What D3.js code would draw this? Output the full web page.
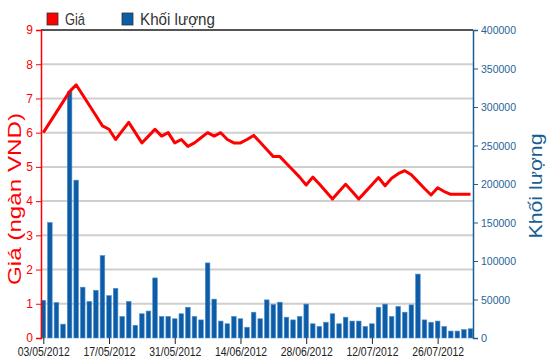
<!DOCTYPE html>
<html>
<head>
<meta charset="utf-8">
<script src="https://d3js.org/d3.v7.min.js"></script>
<style>
  body { margin: 0; background: #fff; }
  svg { display: block; font-family: "Liberation Sans", Arial, sans-serif; }
</style>
</head>
<body>
<svg width="550" height="364"></svg>
<script>
// trading days
var dates = [
  "03/05/2012","04/05/2012","07/05/2012","08/05/2012","09/05/2012","10/05/2012","11/05/2012",
  "14/05/2012","15/05/2012","16/05/2012","17/05/2012","18/05/2012","21/05/2012","22/05/2012",
  "23/05/2012","24/05/2012","25/05/2012","28/05/2012","29/05/2012","30/05/2012","31/05/2012",
  "01/06/2012","04/06/2012","05/06/2012","06/06/2012","07/06/2012","08/06/2012","11/06/2012",
  "12/06/2012","13/06/2012","14/06/2012","15/06/2012","18/06/2012","19/06/2012","20/06/2012",
  "21/06/2012","22/06/2012","25/06/2012","26/06/2012","27/06/2012","28/06/2012","29/06/2012",
  "02/07/2012","03/07/2012","04/07/2012","05/07/2012","06/07/2012","09/07/2012","10/07/2012",
  "11/07/2012","12/07/2012","13/07/2012","16/07/2012","17/07/2012","18/07/2012","19/07/2012",
  "20/07/2012","23/07/2012","24/07/2012","25/07/2012","26/07/2012","27/07/2012","30/07/2012",
  "31/07/2012","01/08/2012","02/08/2012"
];

// price, thousand VND
var price = [
  6.0, 6.3, 6.6, 6.9, 7.2, 7.4, 7.1, 6.8, 6.5, 6.2,
  6.1, 5.8, 6.05, 6.3, 6.0, 5.7, 5.9, 6.1, 5.9, 6.0,
  5.7, 5.8, 5.6, 5.7, 5.85, 6.0, 5.9, 6.0, 5.8, 5.7,
  5.7, 5.8, 5.92, 5.72, 5.51, 5.3, 5.3, 5.1, 4.9, 4.7,
  4.47, 4.7, 4.5, 4.28, 4.06, 4.28, 4.49, 4.28, 4.06, 4.27,
  4.48, 4.69, 4.45, 4.67, 4.8, 4.89, 4.77, 4.57, 4.37, 4.18,
  4.39, 4.28, 4.2, 4.2, 4.2, 4.2
];

// volume
var volume = [
  49000, 150000, 46000, 18000, 320000, 205000, 66000, 47500, 62000, 107000,
  55000, 64500, 28000, 47500, 16500, 31500, 35000, 78000, 28000, 28000,
  25000, 31500, 40000, 28000, 23500, 97500, 50500, 22000, 18500, 28000,
  25000, 14000, 33500, 25000, 49500, 43500, 46500, 27000, 23500, 28000,
  44000, 18500, 15000, 20500, 31500, 18500, 27000, 22000, 22000, 15000,
  18500, 40000, 44000, 28000, 41000, 33500, 43000, 83000, 23500, 20500,
  22000, 15000, 9000, 9000, 11000, 12000
];

var priceTicks = [0, 1, 2, 3, 4, 5, 6, 7, 8, 9];
var volTicks = [0, 50000, 100000, 150000, 200000, 250000, 300000, 350000, 400000];

var svg = d3.select("svg");
var plotL = 41, plotR = 473, plotT = 30, plotB = 338;

var x = d3.scalePoint().domain(dates).range([43.3, 470.5]);
var yP = d3.scaleLinear().domain([0, 9]).range([plotB, plotT]);
var yV = d3.scaleLinear().domain([0, 400000]).range([plotB, plotT]);

// grid
svg.append("g")
  .selectAll("line")
  .data(priceTicks.slice(1, 9))
  .enter().append("line")
    .attr("x1", plotL).attr("x2", plotR)
    .attr("y1", function(d) { return yP(d); })
    .attr("y2", function(d) { return yP(d); })
    .attr("stroke", "#cfcfcf")
    .attr("stroke-width", 2);

// top border
svg.append("line")
  .attr("x1", plotL).attr("x2", plotR)
  .attr("y1", plotT).attr("y2", plotT)
  .attr("stroke", "#555").attr("stroke-width", 2);

// volume bars
svg.append("g")
  .selectAll("rect")
  .data(volume)
  .enter().append("rect")
    .attr("x", function(d, i) { return x(dates[i]) - 2.3; })
    .attr("width", 4.6)
    .attr("y", function(d) { return yV(d); })
    .attr("height", function(d) { return plotB - yV(d); })
    .attr("fill", "#0d5ca6")
    .attr("stroke", "#4f8fd0")
    .attr("stroke-width", 0.6);

// price line
var line = d3.line()
  .x(function(d, i) { return x(dates[i]); })
  .y(function(d) { return yP(d); });

svg.append("path")
  .datum(price)
  .attr("fill", "none")
  .attr("stroke", "#ff0000")
  .attr("stroke-width", 3)
  .attr("stroke-linejoin", "round")
  .attr("d", line);

// left axis
var gl = svg.append("g")
  .attr("transform", "translate(" + plotL + ",0)")
  .call(d3.axisLeft(yP).tickValues(priceTicks).tickSize(5).tickPadding(3).tickFormat(d3.format("d")));
gl.select(".domain").attr("stroke", "#ff0000").attr("stroke-width", 1.5);
gl.selectAll(".tick line").attr("stroke", "#ff0000");
gl.selectAll(".tick text").attr("fill", "#ff0000").attr("font-size", 12)
  .attr("font-family", "Liberation Sans, Arial, sans-serif");

// right axis
var gr = svg.append("g")
  .attr("transform", "translate(" + plotR + ",0)")
  .call(d3.axisRight(yV).tickValues(volTicks).tickSize(5).tickPadding(3).tickFormat(d3.format("d")));
gr.select(".domain").attr("stroke", "#1a5f94").attr("stroke-width", 1.5);
gr.selectAll(".tick line").attr("stroke", "#1a5f94");
gr.selectAll(".tick text").attr("fill", "#1f6496").attr("font-size", 11)
  .attr("font-family", "Liberation Sans, Arial, sans-serif")
  .attr("textLength", function(d) { return d === 0 ? null : (String(d).length * 35 / 6); })
  .attr("lengthAdjust", "spacingAndGlyphs");

// bottom axis
var gb = svg.append("g")
  .attr("transform", "translate(0," + plotB + ")")
  .call(d3.axisBottom(x)
    .tickValues(dates.filter(function(d, i) { return i % 10 === 0; }))
    .tickSize(6).tickPadding(3));
gb.select(".domain").remove();
gb.selectAll(".tick line").attr("stroke", "#222");
gb.selectAll(".tick text").attr("fill", "#222").attr("font-size", 12)
  .attr("font-family", "Liberation Sans, Arial, sans-serif")
  .attr("textLength", 52)
  .attr("lengthAdjust", "spacingAndGlyphs");

// axis titles
svg.append("text")
  .attr("transform", "translate(21,199) rotate(-90)")
  .attr("text-anchor", "middle")
  .attr("fill", "#ff0000")
  .attr("font-size", 19)
  .attr("textLength", 172)
  .attr("lengthAdjust", "spacingAndGlyphs")
  .text("Giá (ngàn VND)");

svg.append("text")
  .attr("transform", "translate(542,186) rotate(-90)")
  .attr("text-anchor", "middle")
  .attr("fill", "#1a5f94")
  .attr("font-size", 18)
  .attr("textLength", 105)
  .attr("lengthAdjust", "spacingAndGlyphs")
  .text("Khối lượng");

// legend
var legend = [
  { name: "Giá", color: "#ff0000", x: 47, w: 20 },
  { name: "Khối lượng", color: "#0d5ca6", x: 122, w: 75 }
];
var lg = svg.append("g").selectAll("g").data(legend).enter().append("g")
  .attr("transform", function(d) { return "translate(" + d.x + ",13)"; });
lg.append("rect")
  .attr("width", 11).attr("height", 12)
  .attr("fill", function(d) { return d.color; })
  .attr("stroke", "#333").attr("stroke-width", 0.8);
lg.append("text")
  .attr("x", 18).attr("y", 12)
  .attr("fill", "#333")
  .attr("font-size", 17)
  .attr("textLength", function(d) { return d.w; })
  .attr("lengthAdjust", "spacingAndGlyphs")
  .text(function(d) { return d.name; });
</script>
</body>
</html>
